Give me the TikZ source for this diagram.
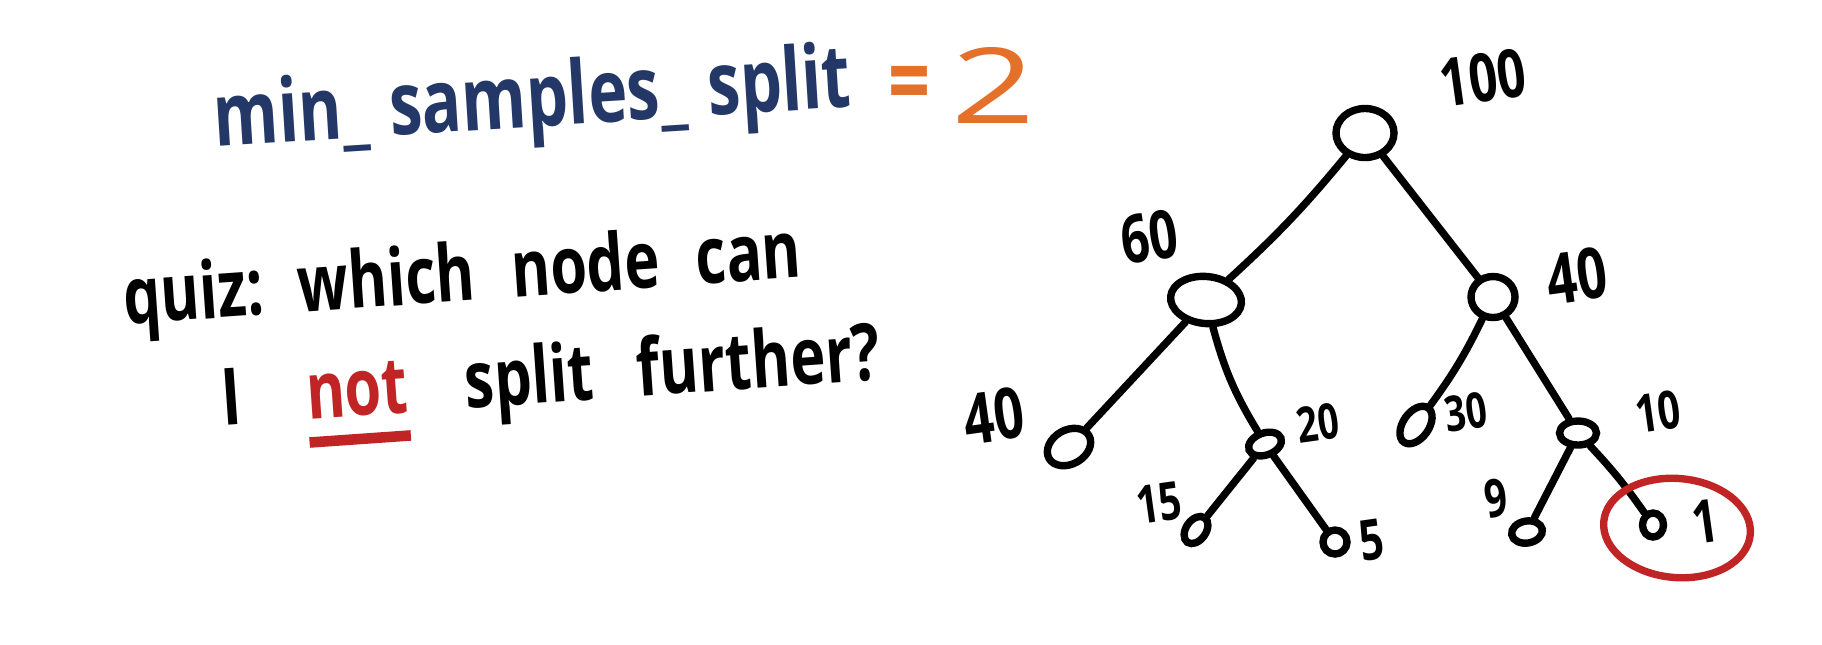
\documentclass[tikz,border=0pt]{standalone}
\usepackage{fontspec}
\setmainfont[FakeStretch=0.75]{Open Sans}
\usepackage{graphicx}
\usepackage{tikz}
\usetikzlibrary{positioning,shapes.geometric}
\definecolor{penblue}{RGB}{36,56,104}
\definecolor{penorange}{RGB}{228,112,42}
\definecolor{penred}{RGB}{192,36,36}
\newcommand{\redunder}[1]{\textcolor{penred}{\setbox0\hbox{#1}\rlap{\rule[-8pt]{\wd0}{3pt}}\box0}}

\begin{document}
\begin{tikzpicture}[x=0.01cm,y=-0.01cm,
    tnode/.style={draw,ellipse,line width=2.1pt,inner sep=0pt},
    num/.style={font=\fontsize{#1}{#1}\selectfont\bfseries,rotate=8,inner sep=0pt},
    branch/.style={line width=2.1pt,line cap=round},
    hand/.style={font=\fontsize{#1}{#1}\selectfont\bfseries,inner sep=0pt}]
  \useasboundingbox[fill=white] (0,0) rectangle (1822,644);

  % heading
  \node[hand=25,text=penblue,anchor=base west,rotate=3.6] (title) at (215,147)
    {min\_\hspace{1pt} samples\_\hspace{1pt} split};
  \node[hand=20,text=penorange,anchor=base west] (value) at (888,123)
    {\raisebox{2pt}{\resizebox{0.42cm}{!}{=}}\hspace{6pt}{\mdseries\resizebox{0.84cm}{0.76cm}{2}}};

  % question
  \node[hand=22.5,anchor=base west,rotate=4,align=left] (quiz) at (132,432)
    {quiz:\hspace{4pt} which\hspace{6pt} node\hspace{6pt} can\\[7pt]
     \hspace*{26pt}I\hspace{14pt} \redunder{not}\hspace{12pt} split\hspace{8pt} further?};

  % tree
  \node[tnode,minimum width=5.8mm,minimum height=4.9mm] (root) at (1365,133) {};
  \node[tnode,minimum width=7.1mm,minimum height=4.7mm,rotate=-6] (n60) at (1206,300) {};
  \node[tnode,minimum width=4.4mm,minimum height=4.1mm] (n40) at (1493,297) {};
  \node[tnode,minimum width=4.6mm,minimum height=3.4mm,rotate=30] (l40) at (1069,447) {};
  \node[tnode,minimum width=3.4mm,minimum height=2.2mm,rotate=20] (n20) at (1265,444) {};
  \node[tnode,minimum width=4.2mm,minimum height=2.6mm,rotate=55] (n30) at (1416,425) {};
  \node[tnode,minimum width=3.7mm,minimum height=2.4mm] (n10) at (1578,433) {};
  \node[tnode,minimum width=3.0mm,minimum height=2.0mm,rotate=55] (n15) at (1196,530) {};
  \node[tnode,minimum width=2.4mm,minimum height=2.4mm] (n5) at (1335,542) {};
  \node[tnode,minimum width=3.1mm,minimum height=2.2mm,rotate=10] (n9) at (1527,532) {};
  \node[tnode,minimum width=2.1mm,minimum height=2.4mm] (n1) at (1653,525) {};

  \draw[branch] (root) to[bend left=4] (n60);
  \draw[branch] (root) -- (n40);
  \draw[branch] (n60) -- (l40);
  \draw[branch] (n60) to[bend right=8] (n20);
  \draw[branch] (n20) -- (n15);
  \draw[branch] (n20) -- (n5);
  \draw[branch] (n40) to[bend left=5] (n30);
  \draw[branch] (n40) -- (n10);
  \draw[branch] (n10) -- (n9);
  \draw[branch] (n10) to[bend left=4] (n1);

  % sample counts
  \node[num=19] (lab100) at (1483,78) {100};
  \node[num=19] (lab60) at (1149,237) {60};
  \node[num=20] (labR40) at (1577,276) {40};
  \node[num=20] (labL40) at (994,416) {40};
  \node[num=14] (lab20) at (1318,423) {20};
  \node[num=14] (lab30) at (1466,412) {30};
  \node[num=15] (lab10) at (1658,412) {10};
  \node[num=15] (lab15) at (1159,503) {15};
  \node[num=16] (lab5) at (1372,540) {5};
  \node[num=15] (lab9) at (1496,498) {9};
  \node[num=17] (lab1) at (1705,522) {1};

  % answer
  \node[draw=penred,ellipse,line width=2.1pt,minimum width=14.7mm,minimum height=9.9mm,rotate=-5] (ring) at (1677,528) {};
\end{tikzpicture}
\end{document}
